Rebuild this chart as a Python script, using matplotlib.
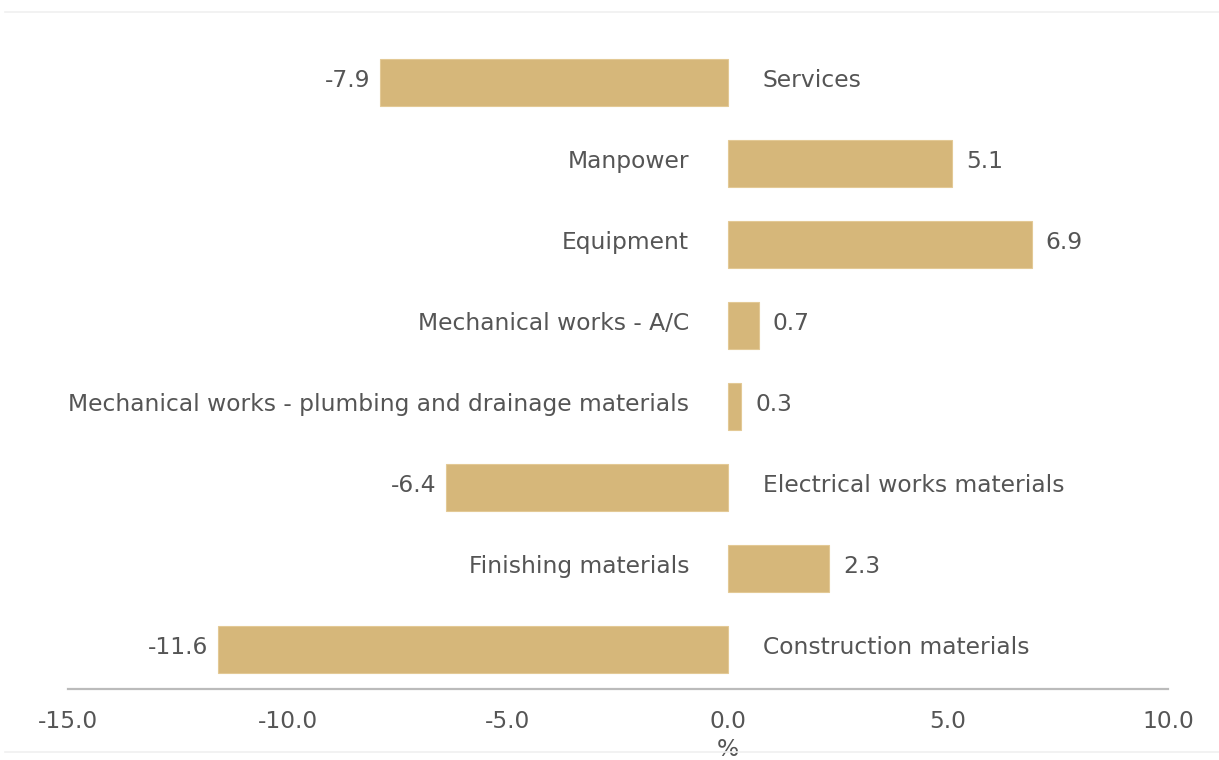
import numpy as np
import matplotlib
matplotlib.use("Agg")
import matplotlib.pyplot as plt
from matplotlib.lines import Line2D

# data, bottom to top
categories = ["Construction materials", "Finishing materials", "Electrical works materials",
              "Mechanical works - plumbing and drainage materials", "Mechanical works - A/C",
              "Equipment", "Manpower", "Services"]
values = [-11.6, 2.3, -6.4, 0.3, 0.7, 6.9, 5.1, -7.9]
xticks = [-15.0, -10.0, -5.0, 0.0, 5.0, 10.0]

bar_color = "#D6B77A"
text_color = "#555555"
fs = 16.8

plt.rcParams["font.family"] = ["DejaVu Sans"]

fig = plt.figure(figsize=(12.19, 7.6), dpi=100)
ax = fig.add_axes([68 / 1219, 1 - 689 / 760, 1100 / 1219, 649 / 760])

y = np.arange(len(categories))
ax.barh(y, values, height=0.58, color=bar_color, edgecolor="#E3C995", linewidth=0.8)

for yi, v, name in zip(y, values, categories):
    if v >= 0:
        ax.annotate(f"{v:.1f}", (v, yi), xytext=(10, 1), textcoords="offset points",
                    ha="left", va="center", fontsize=fs, color=text_color)
        ax.annotate(name, (0, yi), xytext=(-28, 1), textcoords="offset points",
                    ha="right", va="center", fontsize=fs, color=text_color)
    else:
        ax.annotate(f"{v:.1f}", (v, yi), xytext=(-7, 1), textcoords="offset points",
                    ha="right", va="center", fontsize=fs, color=text_color)
        ax.annotate(name, (0, yi), xytext=(25, 1), textcoords="offset points",
                    ha="left", va="center", fontsize=fs, color=text_color)

ax.set_xlim(-15, 10)
ax.set_ylim(-0.49, 7.52)
ax.set_xticks(xticks)
ax.set_xticklabels([f"{t:.1f}" for t in xticks], fontsize=fs, color=text_color)
ax.set_yticks([])
ax.tick_params(axis="x", length=0, pad=15)
ax.set_xlabel("%", fontsize=fs, color=text_color, labelpad=0)
ax.xaxis.set_label_coords(15 / 25, -0.075)

for s in ["top", "right", "left"]:
    ax.spines[s].set_visible(False)
ax.spines["bottom"].set_color("#BBBBBB")
ax.spines["bottom"].set_linewidth(1.6)

# faint frame lines of the original chart
fig.add_artist(Line2D([5 / 1219, 1], [1 - 12 / 760] * 2, color="#F0F0F0", linewidth=1.2))
fig.add_artist(Line2D([5 / 1219, 1], [1 - 752 / 760] * 2, color="#F0F0F0", linewidth=1.2))

fig.savefig("out.png", dpi=100)
